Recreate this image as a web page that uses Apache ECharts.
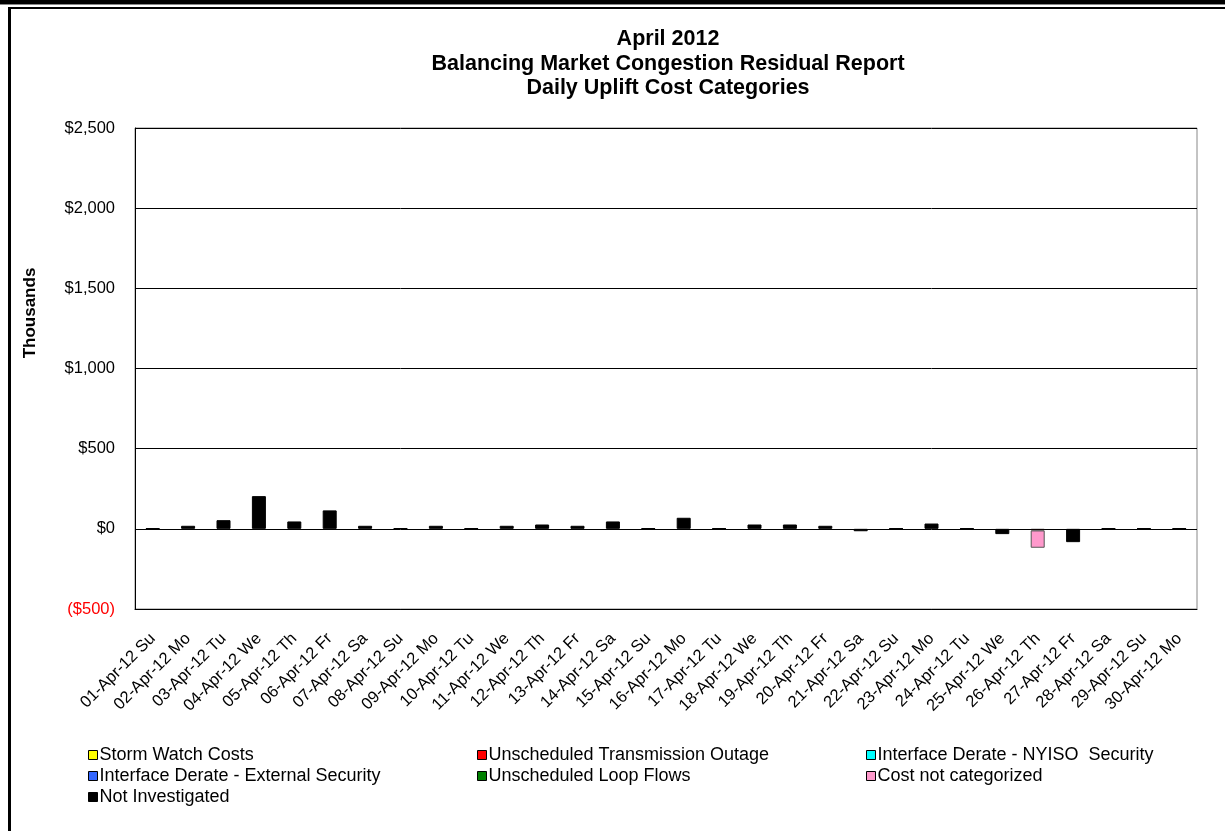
<!DOCTYPE html>
<html>
<head>
<meta charset="utf-8">
<script src="https://cdn.jsdelivr.net/npm/echarts@6/dist/echarts.min.js"></script>
<style>
html,body{margin:0;padding:0;background:#fff;}
#chart{position:absolute;left:0;top:0;width:1225px;height:831px;}
.fr{position:absolute;background:#000;pointer-events:none;}
</style>
</head>
<body>
<div id="chart"></div>
<div class="fr" style="left:0;top:0;width:1225px;height:4px;"></div>
<div class="fr" style="left:0;top:4px;width:1225px;height:1px;background:#888;"></div>
<div class="fr" style="left:8px;top:7px;width:1217px;height:2px;"></div>
<div class="fr" style="left:8px;top:7px;width:3px;height:824px;"></div>
<script>
var categories = ['01-Apr-12 Su','02-Apr-12 Mo','03-Apr-12 Tu','04-Apr-12 We','05-Apr-12 Th','06-Apr-12 Fr','07-Apr-12 Sa','08-Apr-12 Su','09-Apr-12 Mo','10-Apr-12 Tu','11-Apr-12 We','12-Apr-12 Th','13-Apr-12 Fr','14-Apr-12 Sa','15-Apr-12 Su','16-Apr-12 Mo','17-Apr-12 Tu','18-Apr-12 We','19-Apr-12 Th','20-Apr-12 Fr','21-Apr-12 Sa','22-Apr-12 Su','23-Apr-12 Mo','24-Apr-12 Tu','25-Apr-12 We','26-Apr-12 Th','27-Apr-12 Fr','28-Apr-12 Sa','29-Apr-12 Su','30-Apr-12 Mo'];
var stormWatch = [];
var unschedTransOutage = ['-','-','-','-','-','-','-','-','-','-','-','-','-','-','-','-','-','-','-','-','-','-','-','-','-',-10,'-','-','-','-'];
var derateNyiso = [];
var derateExternal = [];
var loopFlows = [];
var notCategorized = ['-','-','-','-','-','-','-','-','-','-','-','-','-','-','-','-','-','-','-','-','-','-','-','-','-',-108,'-','-','-','-'];
var notInvestigated = [3,19,54,204,46,115,19,3,19,3,19,27,19,46,3,69,3,27,27,19,-15,3,33,3,-33,'-',-83,3,3,3];
var yTicks = {min:-500, max:2500, interval:500};

var FONT = '"Liberation Sans", Arial, sans-serif';
function mk(name, data, color, border) {
  return {
    name: name, type: 'bar', stack: 'total', data: data, barWidth: 14,
    itemStyle: {color: color, borderColor: border || '#000', borderWidth: 1},
    emphasis: {disabled: true}
  };
}
var chart = echarts.init(document.getElementById('chart'), null, {renderer: 'canvas'});
var legendBase = {
  orient: 'vertical', icon: 'rect', itemWidth: 9, itemHeight: 9, itemGap: 3,
  textStyle: {fontFamily: FONT, fontSize: 18, color: '#000', padding: [0,0,0,-3]},
  itemStyle: {borderColor: '#000', borderWidth: 1},
  selectedMode: false, top: 741
};
chart.setOption({
  animation: false,
  backgroundColor: '#fff',
  title: {
    text: 'April 2012\nBalancing Market Congestion Residual Report\nDaily Uplift Cost Categories',
    left: 663, top: 22, textAlign: 'center',
    textStyle: {fontFamily: FONT, fontSize: 21.5, fontWeight: 'bold', color: '#000', lineHeight: 24.5}
  },
  graphic: [{
    type: 'text', x: 22, y: 313, rotation: Math.PI / 2,
    style: {text: 'Thousands', font: 'bold 17px ' + FONT, fill: '#000', align: 'center', verticalAlign: 'top'}
  }],
  legend: [
    Object.assign({}, legendBase, {left: 83, data: ['Storm Watch Costs', 'Interface Derate - External Security', 'Not Investigated']}),
    Object.assign({}, legendBase, {left: 472, data: ['Unscheduled Transmission Outage', 'Unscheduled Loop Flows']}),
    Object.assign({}, legendBase, {left: 861, data: ['Interface Derate - NYISO  Security', 'Cost not categorized']})
  ],
  grid: {left: 135, right: 28, top: 128, bottom: 222, show: true, borderColor: '#888', borderWidth: 1},
  xAxis: {
    type: 'category', data: categories,
    axisLine: {onZero: false, lineStyle: {color: '#000'}},
    axisTick: {show: false},
    axisLabel: {rotate: 45, fontFamily: FONT, fontSize: 16.5, color: '#000', margin: 27, interval: 0}
  },
  yAxis: {
    type: 'value', min: yTicks.min, max: yTicks.max, interval: yTicks.interval,
    axisLine: {show: true, lineStyle: {color: '#000'}},
    axisTick: {show: false},
    splitLine: {lineStyle: {color: '#000', width: 1}},
    axisLabel: {
      fontFamily: FONT, fontSize: 16.5, color: '#000', margin: 20,
      formatter: function (v) {
        var s = Math.abs(v).toString().replace(/\B(?=(\d{3})+(?!\d))/g, ',');
        return v < 0 ? '{neg|($' + s + ')}' : '$' + s;
      },
      rich: {neg: {color: '#ff0000', fontFamily: FONT, fontSize: 16.5}}
    }
  },
  series: [
    mk('Storm Watch Costs', stormWatch, '#ffff00'),
    mk('Unscheduled Transmission Outage', unschedTransOutage, '#ff0000'),
    mk('Interface Derate - NYISO  Security', derateNyiso, '#00ffff'),
    mk('Interface Derate - External Security', derateExternal, '#3366ff'),
    mk('Unscheduled Loop Flows', loopFlows, '#008000'),
    mk('Cost not categorized', notCategorized, '#ff99cc', '#555'),
    mk('Not Investigated', notInvestigated, '#000000')
  ]
});
</script>
</body>
</html>
